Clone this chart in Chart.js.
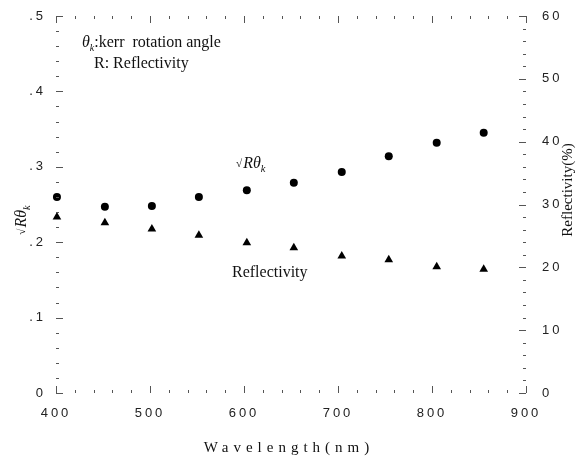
<!DOCTYPE html>
<html>
<head>
<meta charset="utf-8">
<title>Kerr rotation and reflectivity</title>
<script src="https://cdn.jsdelivr.net/npm/chart.js@4.4.1/dist/chart.umd.min.js"></script>
<style>
  body { margin: 0; background: #fff; }
  #wrap { width: 579px; height: 461px; }
</style>
</head>
<body>
<div id="wrap"><canvas id="myChart" width="579" height="461"></canvas></div>
<script>
// Data
const wavelengths = [401, 452, 502, 552, 603, 653, 704, 754, 805, 855]; // nm
const kerrValues = [0.260, 0.247, 0.248, 0.260, 0.269, 0.279, 0.293, 0.314, 0.332, 0.345]; // sqrt(R)*theta_k
const reflectivity = [28.0, 27.1, 26.1, 25.1, 23.9, 23.1, 21.8, 21.2, 20.1, 19.7]; // %

// Axis ranges / tick labels
const xTicks = [400, 500, 600, 700, 800, 900];
const leftTicks = [0, 0.1, 0.2, 0.3, 0.4, 0.5];
const rightTicks = [0, 10, 20, 30, 40, 50, 60];

const serif = "'Liberation Serif', 'DejaVu Serif', serif";
const sans = "'Liberation Sans', Arial, sans-serif";

// draw sqrt(R) theta_k symbol, returns width
function kerrSymbol(ctx, x, y, size, measureOnly) {
    let w = 0;
    ctx.font = (size * 0.7) + "px " + serif;
    if (!measureOnly) ctx.fillText("\u221A", x + w, y - 1);
    w += ctx.measureText("\u221A").width + 1;
    ctx.font = "italic " + size + "px " + serif;
    if (!measureOnly) ctx.fillText("R\u03B8", x + w, y);
    w += ctx.measureText("R\u03B8").width;
    ctx.font = "italic " + (size * 0.65) + "px " + serif;
    if (!measureOnly) ctx.fillText("k", x + w, y + size * 0.25);
    w += ctx.measureText("k").width;
    return w;
}

// Inward tick marks on all four sides, plus texts
const framePlugin = {
    id: 'frame',
    beforeDraw(chart) {
        chart.ctx.letterSpacing = '3px';
    },
    beforeDatasetsDraw(chart) {
        chart.ctx.letterSpacing = '0px';
    },
    afterDraw(chart) {
        const { ctx, chartArea: a, scales } = chart;
        ctx.save();
        ctx.strokeStyle = '#555';
        ctx.lineWidth = 1;
        ctx.beginPath();
        // bottom and top
        for (let v = 400; v <= 900; v += 20) {
            const px = Math.round(scales.x.getPixelForValue(v)) + 0.5;
            const len = v % 100 === 0 ? 7 : 3;
            ctx.moveTo(px, a.bottom); ctx.lineTo(px, a.bottom - len);
            ctx.moveTo(px, a.top); ctx.lineTo(px, a.top + len);
        }
        // left axis
        for (let i = 0; i <= 25; i++) {
            const py = Math.round(scales.y.getPixelForValue(i * 0.02)) + 0.5;
            const len = i % 5 === 0 ? 7 : 3;
            ctx.moveTo(a.left, py); ctx.lineTo(a.left + len, py);
        }
        // right axis
        for (let v = 0; v <= 60; v += 2) {
            const py = Math.round(scales.y1.getPixelForValue(v)) + 0.5;
            const len = v % 10 === 0 ? 7 : 3;
            ctx.moveTo(a.right, py); ctx.lineTo(a.right - len, py);
        }
        ctx.stroke();

        ctx.fillStyle = '#111';
        ctx.textBaseline = 'alphabetic';
        ctx.textAlign = 'left';

        // legend text, top-left
        let x = 82;
        ctx.font = "italic 16px " + serif;
        ctx.fillText("\u03B8", x, 47);
        x += ctx.measureText("\u03B8").width;
        ctx.font = "italic 10px " + serif;
        ctx.fillText("k", x, 51);
        x += ctx.measureText("k").width;
        ctx.font = "16px " + serif;
        ctx.fillText(":kerr  rotation angle", x, 47);
        ctx.fillText("R: Reflectivity", 94, 68);

        // series labels inside the plot
        kerrSymbol(ctx, 236, 168, 16);
        ctx.font = "16px " + serif;
        ctx.fillText("Reflectivity", 232, 277);

        // left axis title
        ctx.save();
        ctx.translate(26, 220);
        ctx.rotate(-Math.PI / 2);
        const w = kerrSymbol(ctx, 0, 0, 16, true);
        kerrSymbol(ctx, -w / 2, 0, 16);
        ctx.restore();

        // right axis title
        ctx.save();
        ctx.translate(572, 190);
        ctx.rotate(-Math.PI / 2);
        ctx.textAlign = 'center';
        ctx.font = "15px " + serif;
        ctx.fillText("Reflectivity(%)", 0, 0);
        ctx.restore();

        // x axis title
        ctx.textAlign = 'center';
        ctx.font = "15px " + serif;
        ctx.letterSpacing = '5px';
        ctx.fillText("Wavelength(nm)", 289, 452);
        ctx.letterSpacing = '0px';
        ctx.restore();
    }
};

const ctx = document.getElementById('myChart').getContext('2d');
const myChart = new Chart(ctx, {
    type: 'scatter',
    data: {
        datasets: [{
            label: 'sqrt(R) theta_k',
            data: wavelengths.map((w, i) => ({ x: w, y: kerrValues[i] })),
            yAxisID: 'y',
            pointStyle: 'circle',
            pointRadius: 4,
            backgroundColor: '#000',
            borderColor: '#000',
            borderWidth: 0,
            clip: false
        }, {
            label: 'Reflectivity',
            data: wavelengths.map((w, i) => ({ x: w, y: reflectivity[i] })),
            yAxisID: 'y1',
            pointStyle: 'triangle',
            pointRadius: 5,
            backgroundColor: '#000',
            borderColor: '#000',
            borderWidth: 0,
            clip: false
        }]
    },
    options: {
        responsive: false,
        animation: false,
        layout: { padding: { top: 16, left: 0, right: 0, bottom: 0 } },
        plugins: {
            legend: { display: false },
            tooltip: { enabled: false }
        },
        scales: {
            x: {
                type: 'linear',
                min: 400,
                max: 900,
                afterBuildTicks: s => { s.ticks = xTicks.map(v => ({ value: v })); },
                grid: { display: false },
                border: { display: false },
                ticks: {
                    color: '#222',
                    padding: 5,
                    font: { family: sans, size: 13 },
                    maxRotation: 0
                },
                afterFit: s => { s.height = 68; }
            },
            y: {
                position: 'left',
                min: 0,
                max: 0.5,
                afterBuildTicks: s => { s.ticks = leftTicks.map(v => ({ value: v })); },
                grid: { display: false },
                border: { display: false },
                ticks: {
                    color: '#222',
                    padding: 2,
                    font: { family: sans, size: 13 },
                    callback: v => v === 0 ? '0' : '.' + Math.round(v * 10)
                },
                afterFit: s => { s.width = 56; }
            },
            y1: {
                position: 'right',
                min: 0,
                max: 60,
                afterBuildTicks: s => { s.ticks = rightTicks.map(v => ({ value: v })); },
                grid: { display: false },
                border: { display: false },
                ticks: {
                    color: '#222',
                    padding: 8,
                    font: { family: sans, size: 13 }
                },
                afterFit: s => { s.width = 53; }
            }
        }
    },
    plugins: [framePlugin]
});
</script>
</body>
</html>
